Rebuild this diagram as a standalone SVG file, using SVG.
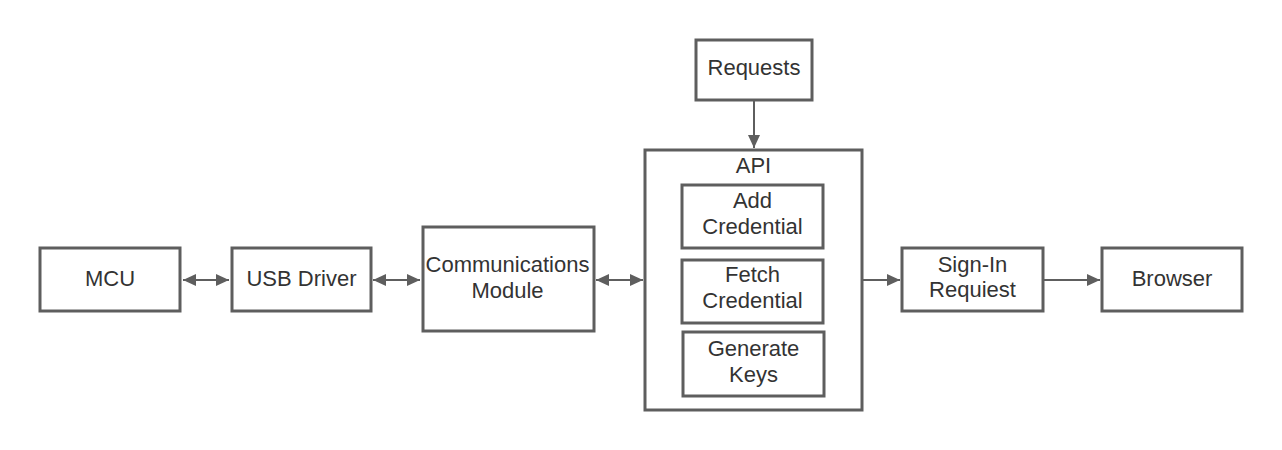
<svg xmlns="http://www.w3.org/2000/svg" width="1282" height="450" viewBox="0 0 1282 450">
<style>
.box{fill:#fff;stroke:#5e5e5e;stroke-width:3}
.t{font-family:"Liberation Sans",Arial,sans-serif;font-size:22px;fill:#333;text-anchor:middle}
.c{stroke:#5e5e5e;stroke-width:2;fill:none}
</style>
<defs>
<marker id="ah" markerUnits="userSpaceOnUse" markerWidth="14" markerHeight="12" refX="13" refY="6" orient="auto-start-reverse">
<path d="M0,0 L13,6 L0,12 Z" fill="#5e5e5e"/>
</marker>
</defs>
<rect width="1282" height="450" fill="#fff"/>
<g id="connectors">
<line class="c" x1="183" y1="280" x2="229" y2="280" marker-start="url(#ah)" marker-end="url(#ah)"/>
<line class="c" x1="373" y1="280" x2="420" y2="280" marker-start="url(#ah)" marker-end="url(#ah)"/>
<line class="c" x1="596" y1="280" x2="643" y2="280" marker-start="url(#ah)" marker-end="url(#ah)"/>
<line class="c" x1="754" y1="101" x2="754" y2="148" marker-end="url(#ah)"/>
<line class="c" x1="863" y1="280" x2="900" y2="280" marker-end="url(#ah)"/>
<line class="c" x1="1044" y1="280" x2="1100" y2="280" marker-end="url(#ah)"/>
</g>
<g id="mcu"><rect class="box" x="40" y="248" width="140" height="63"/><text class="t" x="110" y="286">MCU</text></g>
<g id="usb"><rect class="box" x="232" y="248" width="139" height="63"/><text class="t" x="301.5" y="286">USB Driver</text></g>
<g id="comm"><rect class="box" x="423" y="227" width="171" height="104"/><text class="t" x="507.5" y="272">Communications</text><text class="t" x="507.5" y="298">Module</text></g>
<g id="requests"><rect class="box" x="696" y="40" width="116" height="60"/><text class="t" x="754" y="75">Requests</text></g>
<g id="api"><rect class="box" x="645" y="150" width="217" height="260"/><text class="t" x="753.5" y="173">API</text></g>
<g id="add"><rect class="box" x="682" y="185" width="141" height="63"/><text class="t" x="752.5" y="208">Add</text><text class="t" x="752.5" y="234">Credential</text></g>
<g id="fetch"><rect class="box" x="682" y="260" width="141" height="63"/><text class="t" x="752.5" y="282">Fetch</text><text class="t" x="752.5" y="308">Credential</text></g>
<g id="gen"><rect class="box" x="683" y="332" width="141" height="64"/><text class="t" x="753.5" y="356">Generate</text><text class="t" x="753.5" y="382">Keys</text></g>
<g id="signin"><rect class="box" x="902" y="248" width="141" height="63"/><text class="t" x="972.5" y="272">Sign-In</text><text class="t" x="972.5" y="297">Requiest</text></g>
<g id="browser"><rect class="box" x="1102" y="248" width="140" height="63"/><text class="t" x="1172" y="286">Browser</text></g>
</svg>
